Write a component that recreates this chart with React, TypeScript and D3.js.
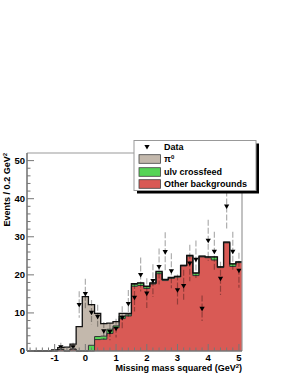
import { useEffect, useRef } from "react";
import * as d3 from "d3";

// bin edges run from -1.9 to 5.1 GeV^2 in steps of 0.2
const binLow = -1.9;
const binWidth = 0.2;

const otherBkg = [
  0, 0, 0, 0, 0, 0.4, 0, 0.5, 0, 0, 0, 3.0, 3.1, 4.6, 6.1, 8.5, 9.2, 17.0,
  17.2, 16.4, 17.6, 20.3, 18.5, 19.1, 19.4, 22.3, 24.9, 19.8, 24.7, 24.5,
  23.9, 21.9, 28.4, 22.2, 23.2,
];
const ulnuCross = [
  0, 0, 0, 0, 0, 0, 0, 0, 0, 0, 1.5, 0.8, 0.8, 1.1, 0.5, 0.7, 0.3, 0.5, 0.6,
  0.5, 0.2, 0.5, 0.2, 0.2, 0.2, 0.2, 0.2, 0.6, 0.2, 0.2, 0.8, 0.2, 0.2, 0.7,
  0.2,
];
const pi0 = [
  0, 0, 0, 0, 0.3, 0.5, 1.0, 1.3, 6.4, 14.3, 10.7, 6.1, 3.3, 1.6, 1.1, 0.7,
  0.4, 0.2, 0.1, 0.1, 0.1, 0.1, 0.1, 0, 0, 0, 0, 0.1, 0, 0, 0, 0, 0, 0, 0,
];
const dataPts = [
  0, 0, 0, 0, 0, 1.1, 0, 1.1, 12.2, 15.1, 10.2, 9.1, 5.3, 5.1, 6.0, 8.8,
  12.5, 14.1, 20.1, 15.2, 18.5, 22.2, 26.1, 21.1, 16.1, 17.2, 23.1, 24.1,
  11.2, 29.1, 26.2, 19.1, 38.1, 26.2, 21.2,
];

const xTicks = [-1, 0, 1, 2, 3, 4, 5];
const yTicks = [0, 10, 20, 30, 40, 50];

const W = 291;
const H = 376;
const L = 27;
const R = 242;
const T = 153;
const B = 351;

const colors = { other: "#d95a55", ulnu: "#55d456", pi0: "#c3b8ac" };
const font = "'Liberation Sans', Arial, Helvetica, sans-serif";

export default function App() {
  const ref = useRef<SVGSVGElement>(null);

  useEffect(() => {
    if (!ref.current) return;
    const svg = d3.select(ref.current);
    svg.selectAll("*").remove();

    const x = d3.scaleLinear().domain([-1.9, 5.1]).range([L, R]);
    const y = d3.scaleLinear().domain([0, 52]).range([B, T]);

    const n = otherBkg.length;
    const c1 = otherBkg;
    const c2 = c1.map((v, i) => v + ulnuCross[i]);
    const c3 = c2.map((v, i) => v + pi0[i]);

    const steps = (lo: number[], hi: number[]) => {
      const pts: { x: number; lo: number; hi: number }[] = [];
      for (let i = 0; i < n; i++) {
        const a = binLow + i * binWidth;
        pts.push({ x: a, lo: lo[i], hi: hi[i] });
        pts.push({ x: a + binWidth, lo: lo[i], hi: hi[i] });
      }
      return pts;
    };
    const zero = new Array(n).fill(0);

    const area = d3
      .area<{ x: number; lo: number; hi: number }>()
      .x((d) => x(d.x))
      .y0((d) => y(d.lo))
      .y1((d) => y(d.hi));
    const line = d3
      .line<{ x: number; lo: number; hi: number }>()
      .x((d) => x(d.x))
      .y((d) => y(d.hi));

    const bands = [
      { lo: zero, hi: c1, fill: colors.other },
      { lo: c1, hi: c2, fill: colors.ulnu },
      { lo: c2, hi: c3, fill: colors.pi0 },
    ];
    bands.forEach((b) => {
      svg.append("path").attr("d", area(steps(b.lo, b.hi))).attr("fill", b.fill);
    });
    [c1, c2].forEach((c) => {
      svg
        .append("path")
        .attr("d", line(steps(zero, c)))
        .attr("fill", "none")
        .attr("stroke", "#333")
        .attr("stroke-width", 1);
    });
    svg
      .append("path")
      .attr("d", line(steps(zero, c3)))
      .attr("fill", "none")
      .attr("stroke", "#111")
      .attr("stroke-width", 1.3);

    // data: down triangles with dashed poisson errors
    const tri = d3.symbol().type(d3.symbolTriangle).size(12);
    dataPts.forEach((v, i) => {
      if (v <= 0) return;
      const cx = x(binLow + (i + 0.5) * binWidth);
      const e = Math.sqrt(v);
      svg
        .append("line")
        .attr("x1", cx)
        .attr("x2", cx)
        .attr("y1", y(v + e))
        .attr("y2", y(Math.max(0, v - e)))
        .attr("stroke", "#000")
        .attr("stroke-opacity", 0.32)
        .attr("stroke-width", 1.2)
        .attr("stroke-dasharray", "6,2");
      svg
        .append("path")
        .attr("d", tri())
        .attr("transform", `translate(${cx},${y(v)}) rotate(180)`)
        .attr("fill", "#000");
    });

    // frame
    svg
      .append("line")
      .attr("x1", L)
      .attr("x2", R)
      .attr("y1", T)
      .attr("y2", T)
      .attr("stroke", "#999")
      .attr("stroke-width", 1.2);
    svg
      .append("line")
      .attr("x1", R)
      .attr("x2", R)
      .attr("y1", T)
      .attr("y2", B)
      .attr("stroke", "#999")
      .attr("stroke-width", 1.2);

    // y axis
    const gy = svg.append("g").attr("font-family", font).attr("font-weight", "bold");
    gy.append("line")
      .attr("x1", L)
      .attr("x2", L)
      .attr("y1", T)
      .attr("y2", B)
      .attr("stroke", "#777")
      .attr("stroke-width", 1.6);
    d3.range(0, 52, 2).forEach((t) => {
      const major = t % 10 === 0;
      gy.append("line")
        .attr("x1", L)
        .attr("x2", L + (major ? 7 : 3.5))
        .attr("y1", y(t))
        .attr("y2", y(t))
        .attr("stroke", "#777")
        .attr("stroke-width", 1);
    });
    yTicks.forEach((t) => {
      gy.append("text")
        .attr("x", L - 2)
        .attr("y", y(t) + 3.3)
        .attr("text-anchor", "end")
        .attr("font-size", 9.5)
        .text(t);
    });
    const yt = gy
      .append("text")
      .attr("transform", `translate(10,${T}) rotate(-90)`)
      .attr("text-anchor", "end")
      .attr("font-size", 9);
    yt.append("tspan").text("Events / 0.2 GeV");
    yt.append("tspan").attr("font-size", 6).attr("dy", -3.5).text("2");

    // x axis
    const gx = svg.append("g").attr("font-family", font).attr("font-weight", "bold");
    gx.append("line")
      .attr("x1", L)
      .attr("x2", R)
      .attr("y1", B)
      .attr("y2", B)
      .attr("stroke", "#777")
      .attr("stroke-width", 1.6);
    d3.range(-18, 52, 2).forEach((k) => {
      const t = k / 10;
      const major = k % 10 === 0;
      gx.append("line")
        .attr("x1", x(t))
        .attr("x2", x(t))
        .attr("y1", B)
        .attr("y2", B - (major ? 7 : 3.5))
        .attr("stroke", "#777")
        .attr("stroke-width", 1);
    });
    xTicks.forEach((t) => {
      gx.append("text")
        .attr("x", x(t))
        .attr("y", B + 10)
        .attr("text-anchor", "middle")
        .attr("font-size", 9.5)
        .text(t);
    });
    const xt = gx
      .append("text")
      .attr("x", R)
      .attr("y", 371)
      .attr("text-anchor", "end")
      .attr("font-size", 9);
    xt.append("tspan").text("Missing mass squared (GeV");
    xt.append("tspan").attr("font-size", 6).attr("dy", -3.5).text("2");
    xt.append("tspan").attr("dy", 3.5).text(")");

    // legend
    const lg = svg.append("g").attr("font-family", font).attr("font-weight", "bold");
    lg.append("rect").attr("x", 137).attr("y", 143.5).attr("width", 122).attr("height", 50).attr("fill", "#000");
    lg.append("rect")
      .attr("x", 134)
      .attr("y", 140.5)
      .attr("width", 122)
      .attr("height", 50)
      .attr("fill", "#fff")
      .attr("stroke", "#999")
      .attr("stroke-width", 1);
    lg.append("path").attr("d", tri()).attr("transform", "translate(147,146.5) rotate(180)").attr("fill", "#000");
    lg.append("text").attr("x", 164).attr("y", 150).attr("font-size", 9).text("Data");
    const rows = [
      { label: "π", sup: "0", fill: colors.pi0, yc: 159 },
      { label: "ulν crossfeed", sup: "", fill: colors.ulnu, yc: 172 },
      { label: "Other backgrounds", sup: "", fill: colors.other, yc: 184 },
    ];
    rows.forEach((r) => {
      lg.append("rect")
        .attr("x", 139)
        .attr("y", r.yc - 4.3)
        .attr("width", 21.5)
        .attr("height", 8.6)
        .attr("fill", r.fill)
        .attr("stroke", "#444")
        .attr("stroke-width", 0.8);
      const t = lg.append("text").attr("x", 164).attr("y", r.yc + 3.2).attr("font-size", 9);
      t.append("tspan").text(r.label);
      if (r.sup) t.append("tspan").attr("font-size", 6).attr("dy", -3.5).text(r.sup);
    });
  }, []);

  return (
    <svg
      ref={ref}
      width={W}
      height={H}
      style={{ position: "absolute", left: 0, top: 0, background: "#fff" }}
    />
  );
}
